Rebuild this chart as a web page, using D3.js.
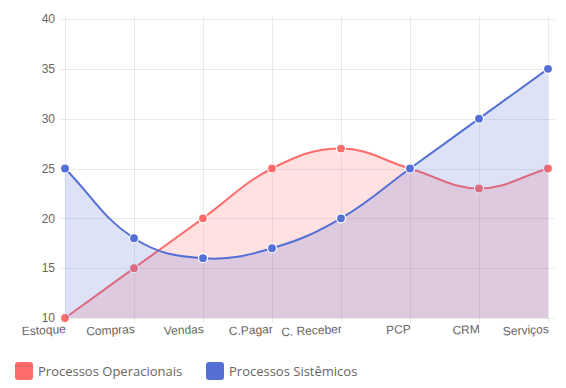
<!DOCTYPE html>
<html>
<head>
<meta charset="utf-8">
<script src="https://cdn.jsdelivr.net/npm/d3@7/dist/d3.min.js"></script>
<style>
  body { margin: 0; background: #fff; }
  svg { display: block; }
</style>
</head>
<body>
<div id="chart"></div>
<script>
const categories = ["Estoque", "Compras", "Vendas", "C.Pagar", "C. Receber", "PCP", "CRM", "Serviços"];
const operacionais = [10, 15, 20, 25, 27, 25, 23, 25];
const sistemicos = [25, 18, 16, 17, 20, 25, 30, 35];
const yTicks = [10, 15, 20, 25, 30, 35, 40];
const seriesNames = ["Processos Operacionais", "Processos Sistêmicos"];

const W = 566, H = 388;
const plotLeft = 65, plotRight = 548, plotTop = 19, plotBottom = 318;

const svg = d3.select("#chart").append("svg")
    .attr("width", W)
    .attr("height", H);

const x = d3.scalePoint().domain(categories).range([plotLeft, plotRight]);
const y = d3.scaleLinear().domain([10, 40]).range([plotBottom, plotTop]);

// grid
const grid = svg.append("g");
grid.selectAll("line.h")
    .data(yTicks)
    .enter().append("line")
    .attr("x1", plotLeft - 5).attr("x2", plotRight + 7)
    .attr("y1", d => Math.round(y(d)) + 0.5).attr("y2", d => Math.round(y(d)) + 0.5)
    .attr("stroke", "rgba(0,0,0,0.08)");
grid.selectAll("line.v")
    .data(categories)
    .enter().append("line")
    .attr("x1", d => Math.round(x(d)) + 0.5).attr("x2", d => Math.round(x(d)) + 0.5)
    .attr("y1", plotTop - 2).attr("y2", plotBottom + 5)
    .attr("stroke", "rgba(0,0,0,0.08)");

// y labels
svg.append("g").selectAll("text")
    .data(yTicks)
    .enter().append("text")
    .attr("x", plotLeft - 10)
    .attr("y", d => y(d))
    .attr("dy", "0.35em")
    .attr("text-anchor", "end")
    .style("font", "12px 'Liberation Sans', Arial, sans-serif")
    .style("fill", "#666")
    .text(d => d);

// x labels (slightly rotated like chart.js)
svg.append("g").selectAll("text")
    .data(categories)
    .enter().append("text")
    .attr("transform", d => "translate(" + (x(d) + 1) + "," + (plotBottom + 15) + ") rotate(-3)")
    .attr("text-anchor", "end")
    .style("font", "12px 'Liberation Sans', Arial, sans-serif")
    .style("fill", "#666")
    .text(d => d);

// chart.js style spline (tension 0.4)
function splinePoints(vals) {
    const pts = vals.map((v, i) => ({ x: x(categories[i]), y: y(v) }));
    const t = 0.4;
    pts.forEach((p, i) => {
        const p0 = pts[i - 1] || p, p2 = pts[i + 1] || p;
        const d01 = Math.hypot(p.x - p0.x, p.y - p0.y);
        const d12 = Math.hypot(p2.x - p.x, p2.y - p.y);
        let s01 = d01 / (d01 + d12), s12 = d12 / (d01 + d12);
        if (isNaN(s01)) s01 = 0;
        if (isNaN(s12)) s12 = 0;
        const fa = t * s01, fb = t * s12;
        p.cpPrev = { x: p.x - fa * (p2.x - p0.x), y: p.y - fa * (p2.y - p0.y) };
        p.cpNext = { x: p.x + fb * (p2.x - p0.x), y: p.y + fb * (p2.y - p0.y) };
    });
    return pts;
}

function linePath(pts, ctx) {
    ctx.moveTo(pts[0].x, pts[0].y);
    for (let i = 1; i < pts.length; i++) {
        const a = pts[i - 1], b = pts[i];
        ctx.bezierCurveTo(a.cpNext.x, a.cpNext.y, b.cpPrev.x, b.cpPrev.y, b.x, b.y);
    }
    return ctx;
}

function drawSeries(vals, color, fill) {
    const pts = splinePoints(vals);
    const areaP = linePath(pts, d3.path());
    areaP.lineTo(pts[pts.length - 1].x, y(10));
    areaP.lineTo(pts[0].x, y(10));
    areaP.closePath();
    svg.append("path")
        .attr("d", areaP.toString())
        .attr("fill", fill);
    svg.append("path")
        .attr("d", linePath(pts, d3.path()).toString())
        .attr("fill", "none")
        .attr("stroke", color)
        .attr("stroke-width", 2);
    svg.append("g").selectAll("circle")
        .data(pts)
        .enter().append("circle")
        .attr("cx", d => d.x)
        .attr("cy", d => d.y)
        .attr("r", 4.5)
        .attr("fill", color)
        .attr("stroke", "#fff")
        .attr("stroke-width", 1.2);
}

const red = "#ff6b6b", blue = "#5470d6";
drawSeries(operacionais, red, "rgba(255,107,107,0.2)");
drawSeries(sistemicos, blue, "rgba(84,112,214,0.2)");

// legend
const legend = svg.append("g");
const lx = [15, 206];
seriesNames.forEach((name, i) => {
    legend.append("rect")
        .attr("x", lx[i]).attr("y", 362)
        .attr("width", 18).attr("height", 18)
        .attr("rx", 3)
        .attr("fill", i === 0 ? red : blue);
    legend.append("text")
        .attr("x", lx[i] + 23).attr("y", 371)
        .attr("dy", "0.35em")
        .style("font", "13px 'Open Sans', sans-serif")
        .style("fill", "#666")
        .text(name);
});
</script>
</body>
</html>
